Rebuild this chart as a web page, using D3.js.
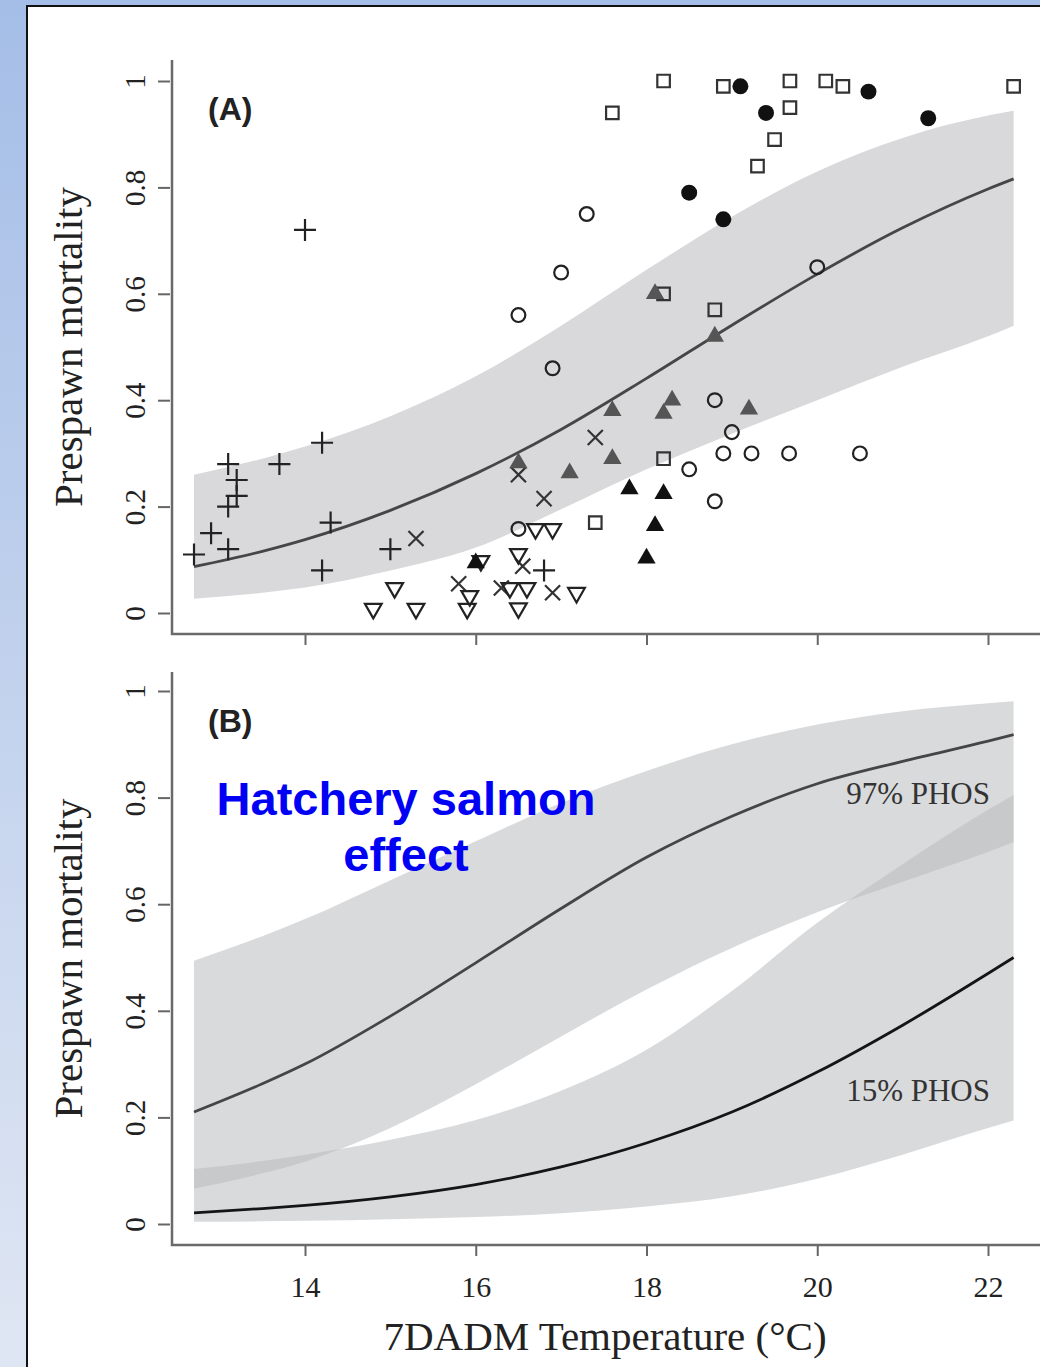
<!DOCTYPE html>
<html>
<head>
<meta charset="utf-8">
<script src="https://cdn.jsdelivr.net/npm/d3@7"></script>
<style>
  body { margin: 0; }
  svg { display: block; }
</style>
</head>
<body>
<div id="chart"></div>
<script>
const curveTemp = [12.7, 13.5, 14, 15, 16, 17, 18, 19, 20, 21, 22, 22.3]

// panel A: pooled fit
const aFit   = [0.087, 0.116, 0.138, 0.193, 0.262, 0.345, 0.441, 0.541, 0.637, 0.724, 0.797, 0.816]
const aUpper = [0.26, 0.29, 0.313, 0.37, 0.445, 0.54, 0.645, 0.745, 0.83, 0.893, 0.935, 0.944]
const aLower = [0.027, 0.038, 0.048, 0.08, 0.123, 0.195, 0.27, 0.337, 0.40, 0.463, 0.52, 0.54]

// panel B: 97% and 15% PHOS fits
const b97Fit   = [0.21, 0.263, 0.30, 0.39, 0.49, 0.592, 0.688, 0.765, 0.826, 0.868, 0.906, 0.918]
const b97Upper = [0.494, 0.54, 0.572, 0.645, 0.718, 0.79, 0.85, 0.90, 0.937, 0.962, 0.977, 0.981]
const b97Lower = [0.066, 0.095, 0.117, 0.18, 0.262, 0.352, 0.44, 0.518, 0.585, 0.642, 0.698, 0.716]
const b15Fit   = [0.021, 0.029, 0.035, 0.051, 0.074, 0.107, 0.152, 0.21, 0.285, 0.373, 0.47, 0.50]
const b15Upper = [0.103, 0.118, 0.13, 0.158, 0.195, 0.25, 0.327, 0.437, 0.565, 0.675, 0.777, 0.805]
const b15Lower = [0.004, 0.005, 0.006, 0.009, 0.013, 0.02, 0.033, 0.052, 0.085, 0.13, 0.18, 0.194]

// panel A observations [temperature, prespawn mortality], one array per marker
const plusPts = [[12.7,0.11],[12.9,0.15],[13.1,0.28],[13.2,0.25],[13.2,0.22],[13.1,0.2],[13.1,0.12],[13.7,0.28],
    [14.0,0.72],[14.2,0.32],[14.3,0.17],[14.2,0.08],[15.0,0.12],[16.8,0.08]]
const timesPts = [[15.3,0.14],[15.8,0.055],[16.3,0.047],[16.55,0.088],[16.5,0.26],[16.8,0.215],[16.9,0.038],[17.4,0.33]]
const triDownPts = [[14.8,0.008],[15.05,0.047],[15.3,0.008],[15.9,0.008],[15.93,0.032],[16.06,0.098],[16.5,0.111],
    [16.4,0.047],[16.6,0.047],[16.5,0.009],[16.7,0.158],[16.9,0.158],[17.18,0.038]]
const circlePts = [[16.5,0.56],[17.0,0.64],[17.3,0.75],[16.9,0.46],[16.5,0.158],[18.8,0.4],[19.0,0.34],[18.9,0.3],
    [19.23,0.3],[19.67,0.3],[20.5,0.3],[18.5,0.27],[18.8,0.21],[20.0,0.65]]
const squarePts = [[17.6,0.94],[18.2,1.0],[18.9,0.99],[19.68,1.0],[20.1,1.0],[20.3,0.99],[19.68,0.95],[19.5,0.89],
    [19.3,0.84],[22.3,0.99],[18.2,0.6],[18.8,0.57],[18.2,0.29],[17.4,0.17]]
const dotPts = [[19.1,0.99],[19.4,0.94],[20.6,0.98],[21.3,0.93],[18.5,0.79],[18.9,0.74]]
const grayTriPts = [[18.1,0.6],[18.8,0.52],[17.6,0.38],[18.3,0.4],[18.2,0.375],[19.2,0.383],[17.6,0.29],[17.1,0.263],[16.5,0.282]]
const blackTriPts = [[17.8,0.233],[18.2,0.224],[18.1,0.164],[18.0,0.103],[16.0,0.094]]

const xTicks = [14, 16, 18, 20, 22]
const yTicks = [0, 0.2, 0.4, 0.6, 0.8, 1]
const yTickLabels = ['0', '0.2', '0.4', '0.6', '0.8', '1']

const W = 1040, H = 1367
const frameLeft = 172

const svg = d3.select('#chart').append('svg').attr('width', W).attr('height', H)

const grad = svg.append('defs').append('linearGradient').attr('id', 'bg')
    .attr('x1', 0).attr('y1', 0).attr('x2', 0).attr('y2', 1)
grad.append('stop').attr('offset', '0%').attr('stop-color', '#a5bee7')
grad.append('stop').attr('offset', '100%').attr('stop-color', '#dfe6f3')
svg.append('rect').attr('width', W).attr('height', H).attr('fill', 'url(#bg)')
svg.append('rect').attr('x', 27).attr('y', 6).attr('width', W - 27).attr('height', H - 6).attr('fill', '#fff')
svg.append('path').attr('d', `M27,${H}V6H${W}`).attr('fill', 'none').attr('stroke', '#111').attr('stroke-width', 2)

const x = d3.scaleLinear().domain([14, 22]).range([305, 988])

const panels = [
    { label: '(A)', top: 60, bottom: 634, yRange: [613, 81], labelY: 120, showX: false },
    { label: '(B)', top: 672, bottom: 1245, yRange: [1224, 691], labelY: 732, showX: true }
]
panels.forEach(p => { p.y = d3.scaleLinear().domain([0, 1]).range(p.yRange) })

const rows = (fit, lo, hi) => curveTemp.map((t, i) => ({ t, fit: fit[i], lo: lo[i], hi: hi[i] }))

function drawBand(g, y, data, fill, opacity) {
    const area = d3.area().x(d => x(d.t)).y0(d => y(d.lo)).y1(d => y(d.hi)).curve(d3.curveMonotoneX)
    g.append('path').attr('d', area(data)).attr('fill', fill).attr('fill-opacity', opacity)
}

function drawFit(g, y, data, color) {
    const line = d3.line().x(d => x(d.t)).y(d => y(d.fit)).curve(d3.curveMonotoneX)
    g.append('path').attr('d', line(data)).attr('fill', 'none').attr('stroke', color).attr('stroke-width', 2.8)
}

function drawAxes(g, p) {
    const yAxis = g.append('g').attr('transform', `translate(${frameLeft - 2},0)`)
        .call(d3.axisLeft(p.y).tickValues(yTicks).tickSize(12).tickFormat((d, i) => yTickLabels[i]))
    yAxis.select('.domain').remove()
    yAxis.selectAll('line').attr('stroke', '#666').attr('stroke-width', 2)
    yAxis.selectAll('text').attr('x', null).attr('dy', null)
        .attr('transform', 'translate(-25,0) rotate(-90)').attr('text-anchor', 'middle')
        .attr('font-family', 'Liberation Serif, serif').attr('font-size', 29).attr('fill', '#222')

    const xAxis = g.append('g').attr('transform', `translate(0,${p.bottom})`)
        .call(d3.axisBottom(x).tickValues(xTicks).tickSize(11).tickFormat(p.showX ? d => d : ''))
    xAxis.select('.domain').remove()
    xAxis.selectAll('line').attr('stroke', '#666').attr('stroke-width', 2)
    xAxis.selectAll('text').attr('y', 52).attr('dy', null)
        .attr('font-family', 'Liberation Serif, serif').attr('font-size', 30).attr('fill', '#222')

    g.append('path').attr('d', `M${frameLeft},${p.top}V${p.bottom}H${W}`)
        .attr('fill', 'none').attr('stroke', '#6a6a6a').attr('stroke-width', 2.5)

    g.append('text').attr('transform', `translate(82,${(p.top + p.bottom) / 2}) rotate(-90)`)
        .attr('text-anchor', 'middle').attr('font-family', 'Liberation Serif, serif')
        .attr('font-size', 41).attr('fill', '#222').text('Prespawn mortality')

    g.append('text').attr('x', 208).attr('y', p.labelY)
        .attr('font-family', 'Liberation Sans, Arial, sans-serif').attr('font-weight', 'bold')
        .attr('font-size', 32).attr('fill', '#222').text(p.label)
}

// ---------- panel A ----------
const pa = panels[0]
const gA = svg.append('g')
const aRows = rows(aFit, aLower, aUpper)
drawBand(gA, pa.y, aRows, '#d9d9db', 1)
drawFit(gA, pa.y, aRows, '#464646')

const markers = [
    { pts: plusPts,     type: d3.symbolPlus,      size: 160, fill: 'none', stroke: '#222', rot: 0 },
    { pts: timesPts,    type: d3.symbolTimes,     size: 150, fill: 'none', stroke: '#333', rot: 0 },
    { pts: triDownPts,  type: d3.symbolTriangle2, size: 200, fill: 'none', stroke: '#222', rot: 180 },
    { pts: circlePts,   type: d3.symbolCircle,    size: 150, fill: 'none', stroke: '#222', rot: 0 },
    { pts: squarePts,   type: d3.symbolSquare2,   size: 200, fill: 'none', stroke: '#333', rot: 0 },
    { pts: dotPts,      type: d3.symbolCircle,    size: 200, fill: '#111', stroke: 'none', rot: 0 },
    { pts: grayTriPts,  type: d3.symbolTriangle,  size: 145, fill: '#555', stroke: 'none', rot: 0 },
    { pts: blackTriPts, type: d3.symbolTriangle,  size: 145, fill: '#111', stroke: 'none', rot: 0 }
]
markers.forEach(m => {
    gA.append('g').selectAll('path').data(m.pts).join('path')
        .attr('d', d3.symbol().type(m.type).size(m.size))
        .attr('transform', d => `translate(${x(d[0])},${pa.y(d[1])}) rotate(${m.rot})`)
        .attr('fill', m.fill).attr('stroke', m.stroke).attr('stroke-width', 2.2)
})
drawAxes(gA, pa)

// ---------- panel B ----------
const pb = panels[1]
const gB = svg.append('g')
const b97Rows = rows(b97Fit, b97Lower, b97Upper)
const b15Rows = rows(b15Fit, b15Lower, b15Upper)
drawBand(gB, pb.y, b97Rows, '#babbbd', 0.55)
drawBand(gB, pb.y, b15Rows, '#babbbd', 0.55)
drawFit(gB, pb.y, b97Rows, '#454545')
drawFit(gB, pb.y, b15Rows, '#151515')

gB.append('text').attr('x', 990).attr('y', 804).attr('text-anchor', 'end')
    .attr('font-family', 'Liberation Serif, serif').attr('font-size', 31).attr('fill', '#333').text('97% PHOS')
gB.append('text').attr('x', 990).attr('y', 1101).attr('text-anchor', 'end')
    .attr('font-family', 'Liberation Serif, serif').attr('font-size', 31).attr('fill', '#333').text('15% PHOS')

const note = gB.append('text').attr('text-anchor', 'middle').attr('font-family', 'Liberation Sans, Arial, sans-serif')
    .attr('font-weight', 'bold').attr('font-size', 47).attr('fill', '#0000f5')
note.append('tspan').attr('x', 406).attr('y', 815).text('Hatchery salmon')
note.append('tspan').attr('x', 406).attr('y', 871).text('effect')

drawAxes(gB, pb)

svg.append('text').attr('x', 605).attr('y', 1350).attr('text-anchor', 'middle')
    .attr('font-family', 'Liberation Serif, serif').attr('font-size', 41).attr('fill', '#222')
    .text('7DADM Temperature (°C)')
</script>
</body>
</html>
